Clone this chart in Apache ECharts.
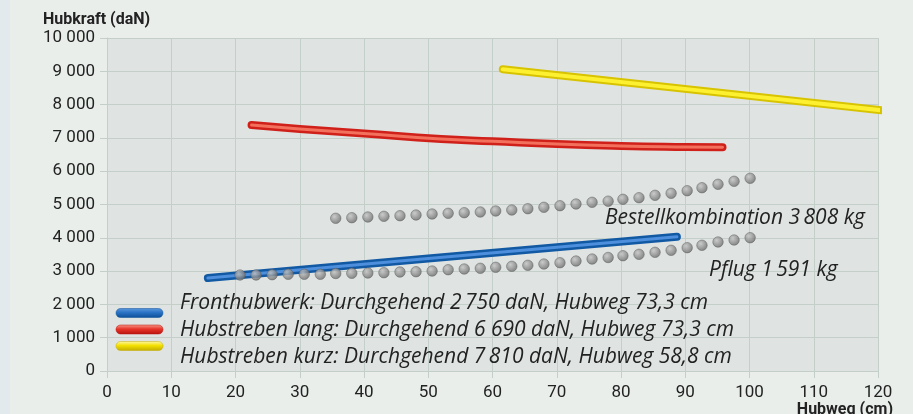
<!DOCTYPE html>
<html><head><meta charset="utf-8">
<script src="https://cdn.jsdelivr.net/npm/echarts@6/dist/echarts.min.js"></script>
<style>html,body{margin:0;padding:0;background:#e9eeeb;}#c{width:913px;height:414px;}</style>
</head><body><div id="c"></div>
<script>
// ---- data ----
const xTicks = [0,10,20,30,40,50,60,70,80,90,100,110,120];
const yTicks = [0,1000,2000,3000,4000,5000,6000,7000,8000,9000,10000];

const frontX = [15.7, 50, 88.7];
const frontY = [2790, 3380, 4030];

const langX = [22.5, 30, 40, 52, 60, 70, 80, 90, 95.8];
const langY = [7385, 7270, 7130, 6967, 6900, 6815, 6760, 6730, 6720];

const kurzX = [61.6, 91, 120.5];
const kurzY = [9060, 8450, 7830];

const bestX = [35.6,38.1,40.6,43.1,45.6,48.1,50.6,53.1,55.6,58.1,60.5,63.0,65.5,68.0,70.5,73.0,75.5,78.0,80.3,82.8,85.3,87.8,90.3,92.6,95.1,97.6,100.1];
const bestY = [4586,4604,4625,4646,4664,4685,4715,4736,4754,4775,4805,4835,4874,4916,4964,5015,5066,5100,5156,5204,5276,5336,5414,5504,5607,5697,5787];

const pflugX = [20.7,23.2,25.7,28.2,30.7,33.2,35.6,38.1,40.6,43.1,45.6,48.1,50.6,53.1,55.6,58.1,60.5,63.0,65.5,68.0,70.5,73.0,75.5,78.0,80.3,82.8,85.3,87.8,90.3,92.6,95.1,97.6,100.1];
const pflugY = [2883,2883,2892,2904,2904,2904,2928,2934,2943,2952,2973,2982,3003,3042,3063,3084,3114,3144,3174,3213,3252,3303,3363,3408,3462,3504,3564,3624,3703,3775,3874,3934,4003];

const legendTexts = [
  'Fronthubwerk: Durchgehend 2\u2009750 daN, Hubweg 73,3 cm',
  'Hubstreben lang: Durchgehend 6 690 daN, Hubweg 73,3 cm',
  'Hubstreben kurz: Durchgehend 7\u2009810 daN, Hubweg 58,8 cm'
];
const annoBest = 'Bestellkombination 3\u2009808 kg';
const annoPflug = 'Pflug 1\u2009591 kg';
const yTitle = 'Hubkraft (daN)';
const xTitle = 'Hubweg (cm)';

// ---- helpers ----
const zip = (xs, ys) => xs.map((x, i) => [x, ys[i]]);
const FONT = 'Roboto';
const IFONT = 'italic 21px "Open Sans"';
const gridCol = '#c4cfc9';

function tube(name, xs, ys, dark, light, lw, z) {
  return [
    {type:'line', name:name, data:zip(xs,ys), smooth:true, symbol:'none', clip:false, z:z,
     lineStyle:{color:dark, width:8, cap:'round', join:'round'}},
    {type:'line', name:name+'_hl', data:zip(xs,ys), smooth:true, symbol:'none', clip:false, z:z+0.1,
     lineStyle:{color:light, width:lw, cap:'round', join:'round'}}
  ];
}
const dotStyle = {
  color:{type:'radial', x:0.38, y:0.35, r:0.7, colorStops:[{offset:0,color:'#c4c4c4'},{offset:1,color:'#666'}]},
  borderColor:'#5a5a5a', borderWidth:0.6
};

function legendIcon(y, c1, c2, c3) {
  return {type:'rect', z:100, shape:{x:116, y:y-4.5, width:47, height:9, r:4.5},
    style:{fill:{type:'linear', x:0, y:0, x2:0, y2:1, colorStops:[{offset:0,color:c1},{offset:0.45,color:c2},{offset:1,color:c3}]}, stroke:c3, lineWidth:0.5}};
}
function txt(x, y, s, opts) {
  return {type:'text', z:100, x:x, y:y, style:Object.assign({text:s, fill:'#222', font:IFONT, textVerticalAlign:'middle'}, opts||{})};
}

const chart = echarts.init(document.getElementById('c'), null, {renderer:'canvas'});
chart.setOption({
  backgroundColor:'#e9eeeb',
  animation:false,
  grid:{left:107, right:35, top:38, bottom:43, show:true, backgroundColor:'#dfe3e2', borderWidth:0},
  xAxis:{type:'value', min:0, max:120, interval:10,
    axisLine:{show:true, lineStyle:{color:gridCol, width:1}},
    axisTick:{show:true, length:7, lineStyle:{color:gridCol}},
    splitLine:{show:true, lineStyle:{color:gridCol, width:1}},
    axisLabel:{margin:13, color:'#222', fontSize:17, fontFamily:FONT,
      formatter:v => xTicks.indexOf(v) >= 0 ? String(v) : ''}},
  yAxis:{type:'value', min:0, max:10000, interval:1000,
    axisLine:{show:true, lineStyle:{color:gridCol, width:1}},
    axisTick:{show:true, length:7, lineStyle:{color:gridCol}},
    splitLine:{show:true, lineStyle:{color:gridCol, width:1}},
    axisLabel:{margin:12, color:'#222', fontSize:17, fontFamily:FONT,
      formatter:v => yTicks.indexOf(v) >= 0 ? String(v).replace(/\B(?=(\d{3})+(?!\d))/g, ' ') : ''}},
  series:[].concat(
    tube('Fronthubwerk', frontX, frontY, '#1259a4', '#4d8fdc', 3, 3),
    tube('Hubstreben lang', langX, langY, '#d0201a', '#f3705c', 3, 3),
    tube('Hubstreben kurz', kurzX, kurzY, '#d8c300', '#fdf030', 4, 3),
    [
      {type:'scatter', name:'Bestellkombination', data:zip(bestX,bestY), symbolSize:10.5, itemStyle:dotStyle, z:5},
      {type:'scatter', name:'Pflug', data:zip(pflugX,pflugY), symbolSize:10.5, itemStyle:dotStyle, z:5}
    ]
  ),
  graphic:[
    {type:'rect', shape:{x:0,y:0,width:10,height:414}, style:{fill:'#e3eaee'}, z:-10, silent:true},
    txt(43, 20, yTitle, {font:'bold 16px '+FONT, fill:'#222'}),
    txt(893, 410, xTitle, {font:'bold 16px '+FONT, fill:'#222', textAlign:'right'}),
    legendIcon(313, '#5b98de', '#2a72c4', '#0b4f98'),
    legendIcon(329.5, '#f49a8a', '#e8342a', '#b8130f'),
    legendIcon(346, '#fff8a8', '#f3e000', '#c2ac00'),
    txt(180, 303, legendTexts[0]),
    txt(180, 330, legendTexts[1]),
    txt(180, 357, legendTexts[2]),
    txt(605, 218, annoBest),
    txt(709, 270, annoPflug)
  ]
});
</script></body></html>
